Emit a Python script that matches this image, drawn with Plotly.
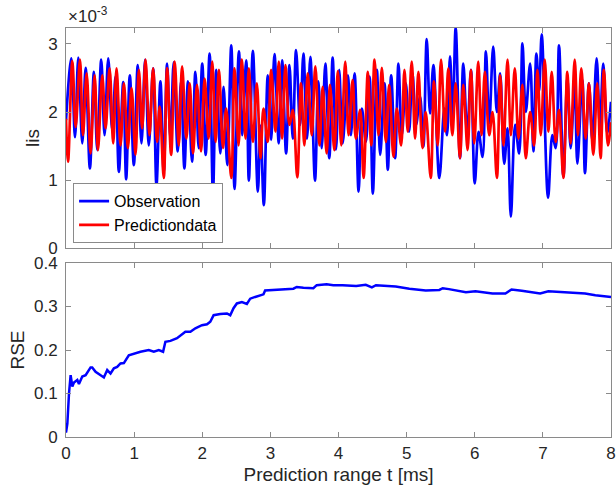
import plotly.graph_objects as go

# ---------------- data ----------------
# Observation (lis, in units of 1e-3) - extreme points
obs_t = [0, 0.078, 0.132, 0.181, 0.239, 0.288, 0.351, 0.41, 0.459, 0.517, 0.566, 0.62, 0.678, 0.727, 0.776,
         0.84, 0.883, 0.937, 0.996, 1.054, 1.108, 1.162, 1.215, 1.279, 1.328, 1.386, 1.435, 1.484, 1.533,
         1.581, 1.64, 1.689, 1.738, 1.791, 1.85, 1.899, 1.948, 2.0, 2.05, 2.108, 2.157, 2.206, 2.265, 2.313,
         2.367, 2.426, 2.474, 2.538, 2.587, 2.645, 2.684, 2.743, 2.816, 2.855, 2.904, 2.962, 3.011, 3.06,
         3.124, 3.172, 3.231, 3.28, 3.329, 3.377, 3.436, 3.485, 3.538, 3.587, 3.655, 3.704, 3.753, 3.807,
         3.865, 3.914, 3.963, 4.01, 4.06, 4.138, 4.182, 4.236, 4.295, 4.343, 4.402, 4.456, 4.504, 4.563,
         4.612, 4.675, 4.724, 4.773, 4.831, 4.88, 4.929, 4.988, 5.036, 5.085, 5.139, 5.197, 5.246, 5.295,
         5.344, 5.393, 5.48, 5.554, 5.593, 5.637, 5.676, 5.72, 5.783, 5.832, 5.89, 5.944, 6.0, 6.056, 6.115,
         6.164, 6.212, 6.271, 6.325, 6.373, 6.432, 6.481, 6.53, 6.593, 6.652, 6.7, 6.749, 6.813, 6.861, 6.905,
         6.944, 6.983, 7.076, 7.14, 7.188, 7.237, 7.301, 7.359, 7.408, 7.467, 7.506, 7.579, 7.618, 7.676,
         7.725, 7.789, 7.838, 7.886, 7.945, 8.0]
obs_lis = [1.88, 2.79, 1.63, 2.80, 1.54, 2.65, 1.17, 2.59, 1.44, 2.77, 1.66, 2.79, 1.74, 2.52, 1.12,
           2.44, 1.01, 2.54, 1.22, 2.69, 1.54, 2.77, 1.51, 2.64, 0.92, 2.45, 1.12, 2.71, 1.61,
           2.73, 1.42, 2.45, 1.17, 2.45, 1.27, 2.59, 1.47, 2.71, 1.37, 2.86, 0.80, 2.62, 1.39, 2.37,
           1.22, 2.98, 0.87, 2.89, 1.66, 2.76, 0.99, 2.90, 0.83, 1.80, 0.63, 2.54, 1.59, 2.85,
           1.54, 2.76, 1.39, 2.69, 1.61, 2.91, 1.81, 2.86, 1.61, 2.81, 0.99, 2.45, 1.47, 2.71,
           1.32, 2.80, 1.45, 2.62, 1.54, 2.54, 1.66, 2.57, 0.83, 2.05, 1.56, 2.52, 0.80, 2.62,
           1.37, 2.42, 1.15, 2.54, 1.32, 2.71, 1.66, 2.42, 1.71, 2.57, 1.81, 2.23, 1.49, 3.07,
           1.98, 2.69, 1.03, 2.05, 1.66, 2.82, 1.91, 3.24, 1.32, 2.71, 1.66, 2.62, 0.95, 1.71, 1.34,
           2.89, 1.83, 2.96, 2.00, 2.57, 1.24, 1.76, 0.46, 1.81, 1.39, 3.01, 2.00, 2.71, 1.42, 2.86,
           2.30, 3.14, 0.74, 1.66, 1.47, 2.98, 1.05, 2.49, 1.47, 2.45, 1.24, 2.47, 1.10, 2.42,
           1.59, 2.79, 1.78, 2.71, 1.69, 2.15]

# Predictiondata (lis, in units of 1e-3)
pred_t = [0, 0.03, 0.093, 0.142, 0.205, 0.249, 0.303, 0.361, 0.42, 0.469, 0.532, 0.581, 0.64, 0.693, 0.742,
          0.801, 0.85, 0.908, 0.962, 1.02, 1.069, 1.118, 1.167, 1.225, 1.279, 1.337, 1.376, 1.435, 1.484,
          1.543, 1.596, 1.655, 1.704, 1.767, 1.816, 1.865, 1.923, 1.982, 2.035, 2.094, 2.147, 2.196, 2.245,
          2.304, 2.352, 2.426, 2.474, 2.533, 2.582, 2.635, 2.684, 2.743, 2.801, 2.855, 2.899, 2.962, 3.011,
          3.075, 3.124, 3.172, 3.221, 3.28, 3.329, 3.395, 3.45, 3.499, 3.548, 3.607, 3.66, 3.719, 3.768,
          3.826, 3.875, 3.939, 3.99, 4.041, 4.099, 4.148, 4.207, 4.255, 4.319, 4.368, 4.431, 4.48, 4.529,
          4.587, 4.636, 4.695, 4.744, 4.807, 4.856, 4.919, 4.968, 5.017, 5.075, 5.124, 5.173, 5.232, 5.28,
          5.354, 5.402, 5.456, 5.505, 5.564, 5.612, 5.671, 5.72, 5.783, 5.832, 5.895, 5.944, 5.993, 6.051,
          6.1, 6.149, 6.212, 6.261, 6.325, 6.373, 6.422, 6.481, 6.53, 6.588, 6.642, 6.7, 6.749, 6.813, 6.871,
          6.92, 6.969, 7.027, 7.081, 7.13, 7.188, 7.237, 7.301, 7.359, 7.408, 7.467, 7.515, 7.564, 7.628,
          7.676, 7.74, 7.798, 7.847, 7.896, 7.955, 8.0]
pred_lis = [1.90, 1.27, 2.75, 1.78, 2.77, 1.66, 2.57, 1.39, 2.54, 1.44, 2.54, 1.76, 2.64, 1.54, 2.64,
            1.51, 2.42, 1.47, 2.35, 1.37, 2.62, 1.76, 2.77, 1.66, 2.64, 1.56, 2.08, 1.03, 2.64,
            1.37, 2.74, 1.51, 2.67, 1.61, 2.42, 1.39, 2.40, 1.42, 2.49, 1.61, 2.74, 1.56, 2.62,
            1.47, 2.05, 1.03, 2.64, 1.51, 2.77, 1.61, 2.64, 1.56, 2.42, 1.32, 2.05, 1.56, 2.62,
            1.71, 2.74, 1.61, 2.69, 1.81, 2.03, 1.04, 2.42, 1.51, 2.57, 1.66, 2.67, 1.51, 2.37,
            1.39, 2.40, 1.44, 2.60, 1.51, 2.74, 1.66, 2.47, 1.61, 2.03, 1.03, 2.59, 1.51, 2.77,
            1.66, 2.65, 1.56, 2.40, 1.34, 2.05, 1.51, 2.62, 1.71, 2.74, 1.61, 2.59, 1.47, 2.00,
            1.03, 2.45, 1.51, 2.77, 1.71, 2.64, 1.66, 2.42, 1.32, 2.40, 1.44, 2.62, 1.54, 2.74,
            1.66, 2.59, 1.66, 2.00, 1.03, 2.54, 1.51, 2.77, 1.66, 2.64, 1.61, 2.40, 1.32, 2.00, 1.51,
            2.62, 1.66, 2.77, 1.71, 2.59, 1.56, 2.03, 1.03, 2.59, 1.54, 2.77, 1.66, 2.64, 1.61,
            2.42, 1.37, 2.42, 1.32, 2.62, 1.51, 1.85]

# RSE vs prediction range
rse_t = [0, 0.02, 0.044, 0.068, 0.093, 0.117, 0.166, 0.19, 0.239, 0.288, 0.361, 0.385, 0.434, 0.556, 0.605,
         0.654, 0.703, 0.751, 0.8, 0.849, 0.922, 0.996, 1.093, 1.215, 1.289, 1.362, 1.425, 1.459, 1.533,
         1.63, 1.704, 1.752, 1.826, 1.899, 1.996, 2.07, 2.118, 2.167, 2.264, 2.362, 2.411, 2.459, 2.508,
         2.582, 2.655, 2.704, 2.777, 2.85, 2.899, 2.923, 3.094, 3.192, 3.338, 3.387, 3.485, 3.631, 3.68,
         3.826, 3.924, 4.06, 4.26, 4.4, 4.49, 4.55, 4.74, 4.84, 5.04, 5.28, 5.48, 5.53, 5.62, 5.87, 6.01,
         6.26, 6.45, 6.54, 6.69, 6.96, 7.08, 7.38, 7.62, 7.77, 7.96, 8.0]
rse_v = [0.01, 0.031, 0.10, 0.142, 0.116, 0.125, 0.131, 0.122, 0.139, 0.142, 0.160, 0.160, 0.150, 0.137, 0.154,
         0.146, 0.158, 0.161, 0.169, 0.170, 0.188, 0.192, 0.196, 0.200, 0.196, 0.200, 0.196, 0.219, 0.221,
         0.227, 0.235, 0.242, 0.242, 0.250, 0.257, 0.259, 0.265, 0.280, 0.283, 0.284, 0.280, 0.296, 0.307,
         0.310, 0.306, 0.318, 0.322, 0.326, 0.328, 0.337, 0.339, 0.339, 0.341, 0.345, 0.343, 0.342, 0.349,
         0.351, 0.349, 0.349, 0.347, 0.350, 0.344, 0.349, 0.348, 0.346, 0.341, 0.337, 0.338, 0.342, 0.340,
         0.333, 0.335, 0.330, 0.330, 0.339, 0.336, 0.330, 0.335, 0.333, 0.330, 0.326, 0.323, 0.322]

x_ticks = [0, 1, 2, 3, 4, 5, 6, 7, 8]
lis_ticks = [0, 1, 2, 3]
rse_ticks = [0, 0.1, 0.2, 0.3, 0.4]

# ---------------- figure ----------------
FONT = "Liberation Sans, Arial, Helvetica, sans-serif"
AX = "#8a8a8a"
TXT = "#262626"

fig = go.Figure()
fig.add_trace(go.Scatter(x=obs_t, y=obs_lis, mode="lines", name="Observation",
                         line=dict(color="#0000ff", width=2.7, shape="spline", smoothing=1.0),
                         xaxis="x", yaxis="y"))
fig.add_trace(go.Scatter(x=pred_t, y=pred_lis, mode="lines", name="Predictiondata",
                         line=dict(color="#ff0000", width=2.7, shape="spline", smoothing=1.0),
                         xaxis="x", yaxis="y"))
fig.add_trace(go.Scatter(x=rse_t, y=rse_v, mode="lines", name="RSE", showlegend=False,
                         line=dict(color="#0000ff", width=2.5),
                         xaxis="x2", yaxis="y2"))

common = dict(showline=True, linecolor=AX, linewidth=1, mirror="ticks", ticks="inside",
              ticklen=5, tickcolor=AX, showgrid=False, zeroline=False, automargin=False,
              ticklabeloverflow="allow",
              tickfont=dict(family=FONT, size=17, color=TXT))

fig.update_layout(
    width=616, height=493,
    margin=dict(l=66, r=5, t=28, b=56),
    paper_bgcolor="white", plot_bgcolor="white",
    font=dict(family=FONT, color=TXT),
    xaxis=dict(domain=[0, 1], range=[0, 8], tickvals=x_ticks, showticklabels=False,
               anchor="y", **common),
    yaxis=dict(domain=[0.462, 1], range=[0, 3.235], tickvals=lis_ticks, ticklabelstandoff=4,
               title=dict(text="lis", font=dict(family=FONT, size=19, color=TXT), standoff=3),
               anchor="x", **common),
    xaxis2=dict(domain=[0, 1], range=[0, 8], tickvals=x_ticks, ticklabelstandoff=1,
                title=dict(text="Prediction range t [ms]", font=dict(family=FONT, size=19, color=TXT),
                           standoff=5),
                anchor="y2", **common),
    yaxis2=dict(domain=[0, 0.4254], range=[0, 0.4], tickvals=rse_ticks, tickformat=".1~f",
                ticklabelstandoff=4,
                title=dict(text="RSE", font=dict(family=FONT, size=19, color=TXT), standoff=4),
                anchor="x2", **common),
    legend=dict(x=0.013, y=0.474, xanchor="left", yanchor="bottom",
                bgcolor="white", bordercolor=AX, borderwidth=1,
                font=dict(family=FONT, size=16, color="black"),
                tracegroupgap=0, itemwidth=30),
    showlegend=True,
    annotations=[dict(text="×10<sup>-3</sup>", xref="paper", yref="paper", x=0.0, y=1.0,
                      xanchor="left", yanchor="bottom", showarrow=False, yshift=0,
                      font=dict(family=FONT, size=17, color=TXT))],
)

fig.write_html("out.html", config={"displayModeBar": False},
               post_script="document.body.style.margin='0';document.body.style.overflow='hidden';")
